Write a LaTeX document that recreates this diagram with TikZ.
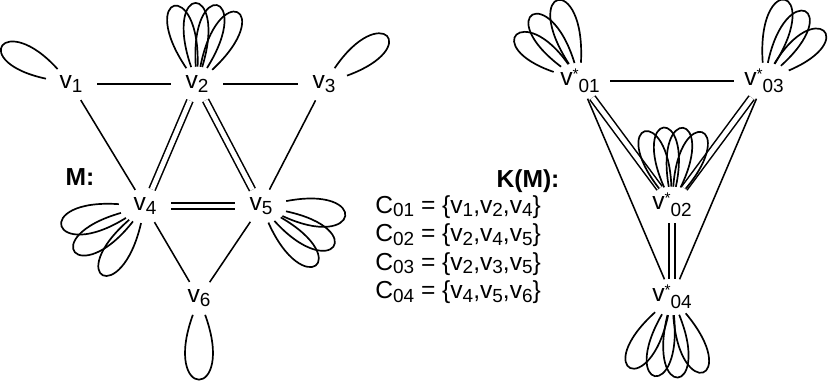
\documentclass[tikz,border=0pt]{standalone}
\usepackage{fontspec}
\setmainfont{Liberation Sans}
\usetikzlibrary{shapes.geometric,positioning}

\newcommand{\sub}[1]{\raisebox{-2.5pt}{\fontsize{13.5}{13}\selectfont #1}}
\newcommand{\vst}[1]{v\raisebox{4pt}{\fontsize{11}{11}\selectfont *}\raisebox{-5pt}{\fontsize{13.5}{13}\selectfont #1}}

\tikzset{
    vtx/.style={ellipse, minimum width=1.3cm, minimum height=0.85cm,
                inner sep=0pt, font=\fontsize{17.5}{20}\selectfont},
    kvtx/.style={ellipse, minimum width=1.5cm, minimum height=0.9cm,
                 inner sep=0pt, font=\fontsize{17.5}{20}\selectfont},
    clq/.style={anchor=base west, inner sep=0pt,
                font=\fontsize{17.5}{20}\selectfont},
    lbl/.style={anchor=base, inner sep=0pt,
                font=\fontsize{17.5}{20}\selectfont\bfseries},
}

\begin{document}
\begin{tikzpicture}[
    x=0.025cm, y=-0.025cm,
    ln/.style={line width=1.1pt},
    dbl/.style={line width=1.1pt, double, double distance=3.4pt},
    lp/.style={line width=1.2pt}
]
    \useasboundingbox (0,0) rectangle (836,381);

    % graph M
    \node[vtx] (v1) at (71,84) {v\sub{1}};
    \node[vtx] (v2) at (197,84) {v\sub{2}};
    \node[vtx] (v3) at (324,84) {v\sub{3}};
    \node[vtx] (v4) at (145,206) {v\sub{4}};
    \node[vtx] (v5) at (261,206) {v\sub{5}};
    \node[vtx] (v6) at (199,298) {v\sub{6}};
    \node[lbl] (mname) at (80,185) {M:};

    \draw[ln] (v1) -- (v2);
    \draw[ln] (v2) -- (v3);
    \draw[ln] (v1) -- (v4);
    \draw[dbl] (v2) -- (v4);
    \draw[dbl] (v2) -- (v5);
    \draw[ln] (v3) -- (v5);
    \draw[dbl] (v4) -- (v5);
    \draw[ln] (v4) -- (v6);
    \draw[ln] (v5) -- (v6);

    \draw[lp] (v1) to[out=168, in=132, distance=2cm] (v1);
    \draw[lp] (v2) to[out=124, in=88, distance=2.25cm] (v2);
    \draw[lp] (v2) to[out=109, in=73, distance=2.25cm] (v2);
    \draw[lp] (v2) to[out=94, in=58, distance=2.25cm] (v2);
    \draw[lp] (v2) to[out=79, in=43, distance=2.25cm] (v2);
    \draw[lp] (v3) to[out=56, in=20, distance=2.05cm] (v3);
    \draw[lp] (v4) to[out=212, in=176, distance=2.2cm] (v4);
    \draw[lp] (v4) to[out=232, in=196, distance=2.2cm] (v4);
    \draw[lp] (v4) to[out=257, in=221, distance=2.2cm] (v4);
    \draw[lp] (v5) to[out=11, in=335, distance=2.15cm] (v5);
    \draw[lp] (v5) to[out=348, in=312, distance=2.15cm] (v5);
    \draw[lp] (v5) to[out=330, in=294, distance=2.15cm] (v5);
    \draw[lp] (v6) to[out=290, in=250, distance=2.3cm] (v6);

    % cliques
    \node[clq] (c01) at (375,213) {C\sub{01} = \{v\sub{1},v\sub{2},v\sub{4}\}};
    \node[clq] (c02) at (375,241.5) {C\sub{02} = \{v\sub{2},v\sub{4},v\sub{5}\}};
    \node[clq] (c03) at (375,270) {C\sub{03} = \{v\sub{2},v\sub{3},v\sub{5}\}};
    \node[clq] (c04) at (375,298.5) {C\sub{04} = \{v\sub{4},v\sub{5},v\sub{6}\}};

    % graph K(M)
    \node[kvtx] (k01) at (580,81) {\vst{01}};
    \node[kvtx] (k03) at (764,81) {\vst{03}};
    \node[kvtx] (k02) at (672,205) {\vst{02}};
    \node[kvtx] (k04) at (672,297) {\vst{04}};
    \node[lbl] (kname) at (528,187) {K(M):};

    \draw[ln] (k01) -- (k03);
    \draw[dbl] (k01) -- (k02);
    \draw[ln] (k01) -- (k04);
    \draw[dbl] (k03) -- (k02);
    \draw[ln] (k03) -- (k04);
    \draw[dbl] (k02) -- (k04);

    \draw[lp] (k01) to[out=161, in=125, distance=1.95cm] (k01);
    \draw[lp] (k01) to[out=143, in=107, distance=2.15cm] (k01);
    \draw[lp] (k01) to[out=123, in=87, distance=2.3cm] (k01);
    \draw[lp] (k03) to[out=94, in=58, distance=2.3cm] (k03);
    \draw[lp] (k03) to[out=78, in=42, distance=2.15cm] (k03);
    \draw[lp] (k03) to[out=59, in=23, distance=1.95cm] (k03);
    \draw[lp] (k02) to[out=128, in=92, distance=2.1cm] (k02);
    \draw[lp] (k02) to[out=114, in=78, distance=2.1cm] (k02);
    \draw[lp] (k02) to[out=100, in=64, distance=2.1cm] (k02);
    \draw[lp] (k02) to[out=86, in=50, distance=2.1cm] (k02);
    \draw[lp] (k04) to[out=258, in=222, distance=2.2cm] (k04);
    \draw[lp] (k04) to[out=276, in=240, distance=2.2cm] (k04);
    \draw[lp] (k04) to[out=292, in=256, distance=2.2cm] (k04);
    \draw[lp] (k04) to[out=310, in=274, distance=2.2cm] (k04);
\end{tikzpicture}
\end{document}
